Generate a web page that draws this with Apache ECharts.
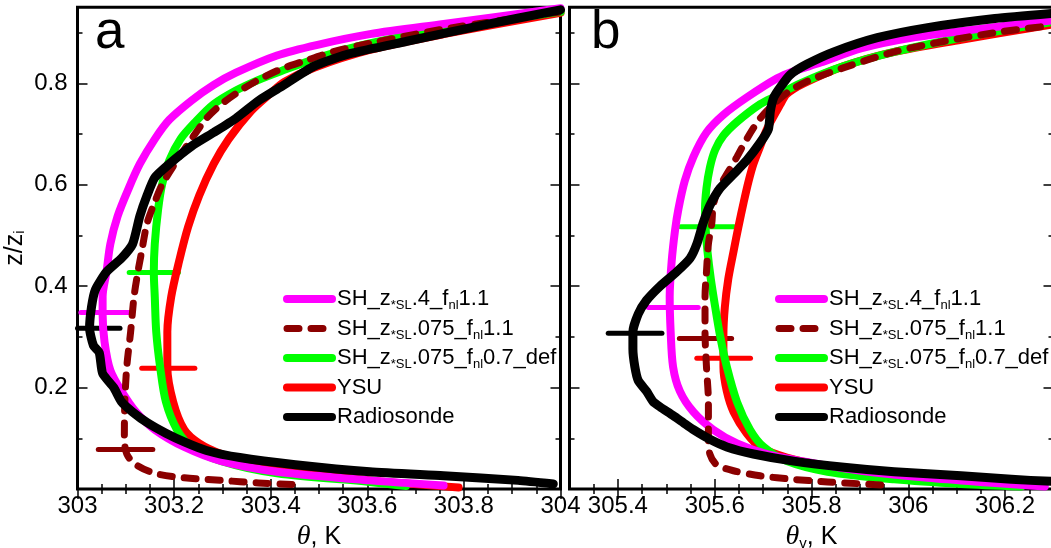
<!DOCTYPE html>
<html><head><meta charset="utf-8">
<script src="https://cdn.jsdelivr.net/npm/echarts@6/dist/echarts.min.js"></script>
<style>html,body{margin:0;padding:0;background:#fff}#c{width:1051px;height:548px}</style>
</head><body><div id="c"></div>
<script>
// ---- tick values / labels ----
const xMajorA = [303, 303.2, 303.4, 303.6, 303.8, 304];
const xMinorA = [303.05, 303.1, 303.15, 303.25, 303.3, 303.35, 303.45, 303.5, 303.55, 303.65, 303.7, 303.75, 303.85, 303.9, 303.95];
const xMajorB = [305.4, 305.6, 305.8, 306, 306.2];
const xMinorB = [305.35, 305.45, 305.5, 305.55, 305.65, 305.7, 305.75, 305.85, 305.9, 305.95, 306.05, 306.1, 306.15, 306.25];
const yMajor = [0.2, 0.4, 0.6, 0.8];
const yMinor = [0.1, 0.3, 0.5, 0.7, 0.9];

// ---- series names ----
const names = ['SH_z*SL.4_fnl1.1', 'SH_z*SL.075_fnl1.1', 'SH_z*SL.075_fnl0.7_def', 'YSU', 'Radiosonde'];
const richNames = ['SH_z{s|*SL}.4_f{s|nl}1.1', 'SH_z{s|*SL}.075_f{s|nl}1.1', 'SH_z{s|*SL}.075_f{s|nl}0.7_def', 'YSU', 'Radiosonde'];

// ---- panel a (theta) ----
const magentaA = [[303.758,0.007],[303.605,0.017],[303.413,0.034],[303.298,0.055],[303.221,0.083],[303.16,0.117],[303.121,0.152],[303.091,0.193],[303.068,0.234],[303.056,0.29],[303.052,0.345],[303.052,0.379],[303.06,0.428],[303.068,0.483],[303.083,0.538],[303.106,0.593],[303.129,0.641],[303.16,0.69],[303.19,0.728],[303.236,0.766],[303.282,0.797],[303.328,0.821],[303.413,0.855],[303.497,0.876],[303.605,0.897],[303.758,0.917],[304.0,0.948]];
const darkA = [[303.444,0.009],[303.375,0.012],[303.298,0.017],[303.221,0.022],[303.16,0.031],[303.121,0.048],[303.102,0.069],[303.097,0.103],[303.098,0.172],[303.102,0.241],[303.11,0.31],[303.117,0.379],[303.125,0.428],[303.133,0.469],[303.144,0.524],[303.16,0.566],[303.175,0.6],[303.206,0.648],[303.236,0.69],[303.267,0.731],[303.298,0.759],[303.336,0.785],[303.375,0.807],[303.421,0.828],[303.467,0.843],[303.528,0.862],[303.605,0.879],[303.758,0.907],[304.0,0.941]];
const greenA = [[303.68,0.006],[303.605,0.014],[303.413,0.031],[303.298,0.055],[303.236,0.083],[303.206,0.117],[303.183,0.172],[303.171,0.241],[303.163,0.31],[303.16,0.379],[303.158,0.428],[303.16,0.483],[303.167,0.552],[303.175,0.6],[303.19,0.648],[303.213,0.69],[303.244,0.724],[303.282,0.759],[303.328,0.786],[303.375,0.807],[303.421,0.824],[303.513,0.855],[303.605,0.879],[303.758,0.907],[304.0,0.941]];
const redA = [[303.789,0.003],[303.605,0.017],[303.49,0.031],[303.375,0.048],[303.298,0.069],[303.252,0.09],[303.221,0.117],[303.198,0.172],[303.186,0.241],[303.186,0.31],[303.194,0.379],[303.21,0.448],[303.229,0.517],[303.252,0.579],[303.282,0.641],[303.313,0.69],[303.359,0.745],[303.398,0.779],[303.428,0.803],[303.49,0.831],[303.605,0.866],[303.758,0.897],[304.0,0.939]];
const blackA = [[303.985,0.01],[303.912,0.017],[303.758,0.026],[303.605,0.034],[303.451,0.048],[303.336,0.062],[303.267,0.076],[303.221,0.093],[303.183,0.11],[303.144,0.131],[303.114,0.152],[303.091,0.172],[303.075,0.2],[303.052,0.228],[303.045,0.269],[303.033,0.283],[303.025,0.317],[303.029,0.359],[303.037,0.393],[303.06,0.428],[303.091,0.455],[303.114,0.483],[303.129,0.538],[303.144,0.579],[303.16,0.614],[303.19,0.641],[303.236,0.676],[303.282,0.703],[303.328,0.731],[303.375,0.766],[303.421,0.793],[303.49,0.834],[303.566,0.859],[303.682,0.883],[303.835,0.914],[304.0,0.945]];
// horizontal bars, panel a
const barMagentaA = [[303.007,0.348],[303.109,0.348]];
const barDarkA = [[303.043,0.078],[303.156,0.078]];
const barGreenA = [[303.107,0.427],[303.209,0.427]];
const barRedA = [[303.133,0.238],[303.243,0.238]];
const barBlackA = [[303.0,0.317],[303.088,0.317]];

// ---- panel b (theta_v) ----
const magentaB = [[306.282,0.005],[306.179,0.012],[306.04,0.022],[305.902,0.036],[305.798,0.052],[305.708,0.069],[305.646,0.09],[305.597,0.117],[305.556,0.152],[305.528,0.193],[305.514,0.241],[305.509,0.31],[305.507,0.379],[305.511,0.448],[305.518,0.51],[305.525,0.552],[305.538,0.607],[305.556,0.655],[305.583,0.703],[305.618,0.738],[305.666,0.772],[305.729,0.81],[305.763,0.824],[305.819,0.841],[305.902,0.869],[306.006,0.89],[306.144,0.907],[306.296,0.924]];
const darkB = [[305.943,0.008],[305.833,0.014],[305.763,0.019],[305.694,0.026],[305.639,0.036],[305.604,0.048],[305.59,0.069],[305.587,0.103],[305.587,0.172],[305.583,0.241],[305.58,0.31],[305.58,0.379],[305.583,0.428],[305.587,0.483],[305.594,0.524],[305.597,0.559],[305.608,0.593],[305.625,0.621],[305.646,0.655],[305.666,0.69],[305.694,0.731],[305.722,0.759],[305.756,0.786],[305.798,0.807],[305.867,0.831],[305.971,0.862],[306.075,0.883],[306.179,0.9],[306.296,0.914]];
const greenB = [[306.234,0.005],[306.109,0.01],[305.971,0.019],[305.833,0.034],[305.749,0.055],[305.701,0.083],[305.673,0.117],[305.646,0.172],[305.625,0.241],[305.611,0.303],[305.601,0.359],[305.592,0.414],[305.585,0.469],[305.581,0.517],[305.58,0.552],[305.583,0.593],[305.59,0.634],[305.601,0.669],[305.618,0.697],[305.646,0.724],[305.694,0.759],[305.729,0.776],[305.777,0.8],[305.867,0.834],[305.971,0.862],[306.109,0.89],[306.296,0.921]];
const redB = [[306.234,0.006],[306.109,0.015],[305.971,0.028],[305.833,0.045],[305.749,0.062],[305.694,0.083],[305.666,0.11],[305.639,0.152],[305.625,0.193],[305.618,0.241],[305.618,0.303],[305.621,0.359],[305.628,0.414],[305.639,0.469],[305.649,0.517],[305.66,0.566],[305.67,0.607],[305.68,0.641],[305.694,0.676],[305.708,0.71],[305.736,0.759],[305.749,0.779],[305.784,0.8],[305.867,0.834],[305.971,0.862],[306.109,0.886],[306.296,0.916]];
const blackB = [[306.296,0.015],[306.213,0.019],[306.109,0.026],[305.971,0.034],[305.867,0.043],[305.763,0.055],[305.68,0.069],[305.625,0.083],[305.59,0.098],[305.556,0.117],[305.535,0.131],[305.514,0.145],[305.487,0.162],[305.473,0.172],[305.459,0.193],[305.442,0.214],[305.435,0.241],[305.431,0.276],[305.431,0.31],[305.442,0.345],[305.459,0.372],[305.487,0.4],[305.521,0.428],[305.549,0.455],[305.563,0.483],[305.576,0.524],[305.59,0.559],[305.611,0.593],[305.639,0.621],[305.666,0.648],[305.694,0.683],[305.711,0.71],[305.715,0.745],[305.722,0.772],[305.736,0.793],[305.756,0.817],[305.791,0.838],[305.846,0.862],[305.936,0.89],[306.04,0.91],[306.179,0.928],[306.296,0.938]];
// horizontal bars, panel b
const barMagentaB = [[305.463,0.358],[305.566,0.358]];
const barDarkB = [[305.527,0.297],[305.635,0.297]];
const barGreenB = [[305.53,0.517],[305.64,0.517]];
const barRedB = [[305.563,0.258],[305.674,0.258]];
const barBlackB = [[305.38,0.307],[305.491,0.307]];

// ---- styling ----
const FONT = 'Liberation Sans';
const colors = {m:'#ff00ff', d:'#8b0000', g:'#00ff00', r:'#ff0000', k:'#000000'};
const legendColors = [colors.m, colors.d, colors.g, colors.r, colors.k];
const tickLine = {color:'#000', width:1.5};
const DASH = [12, 12];

function xAxes(g, min, max, major, minor, labels, name) {
  const base = {gridIndex:g, type:'value', min:min, max:max, splitLine:{show:false}, axisLine:{show:false}, axisPointer:{show:false}};
  return [
    Object.assign({}, base, {position:'bottom',
      axisTick:{inside:true, length:10, customValues:major, lineStyle:tickLine},
      axisLabel:{customValues:labels, color:'#000', fontFamily:FONT, fontSize:24, margin:5},
      name:name, nameLocation:'middle', nameGap:27,
      nameTextStyle:{color:'#000', fontFamily:FONT, fontSize:25,
        rich:{i:{fontFamily:'Liberation Serif', fontStyle:'italic', fontSize:28, color:'#000'},
              s:{fontSize:15, verticalAlign:'bottom', lineHeight:15, color:'#000', fontFamily:FONT}}}}),
    Object.assign({}, base, {position:'bottom', axisTick:{inside:true, length:5, customValues:minor, lineStyle:tickLine}, axisLabel:{show:false}}),
    Object.assign({}, base, {position:'top', axisTick:{inside:true, length:10, customValues:major, lineStyle:tickLine}, axisLabel:{show:false}}),
    Object.assign({}, base, {position:'top', axisTick:{inside:true, length:5, customValues:minor, lineStyle:tickLine}, axisLabel:{show:false}})
  ];
}
function yAxes(g, showLabels) {
  const base = {gridIndex:g, type:'value', min:0, max:0.95, splitLine:{show:false}, axisLine:{show:false}, axisPointer:{show:false}};
  const main = Object.assign({}, base, {position:'left',
      axisTick:{inside:true, length:10, customValues:yMajor, lineStyle:tickLine},
      axisLabel:{show:showLabels, customValues:yMajor, color:'#000', fontFamily:FONT, fontSize:24, margin:10}});
  if (showLabels) {
    main.name = 'z/z{s|i}'; main.nameLocation = 'middle'; main.nameGap = 50; main.nameRotate = 90;
    main.nameTextStyle = {color:'#000', fontFamily:FONT, fontSize:25,
      rich:{s:{fontSize:15, verticalAlign:'bottom', lineHeight:15, color:'#000', fontFamily:FONT}}};
  }
  return [main,
    Object.assign({}, base, {position:'left', axisTick:{inside:true, length:5, customValues:yMinor, lineStyle:tickLine}, axisLabel:{show:false}}),
    Object.assign({}, base, {position:'right', axisTick:{inside:true, length:10, customValues:yMajor, lineStyle:tickLine}, axisLabel:{show:false}}),
    Object.assign({}, base, {position:'right', axisTick:{inside:true, length:5, customValues:yMinor, lineStyle:tickLine}, axisLabel:{show:false}})
  ];
}

function curve(g, name, data, color, width, dashed, smooth, z) {
  return {type:'line', name:name, xAxisIndex:4*g, yAxisIndex:4*g, data:data, showSymbol:false, symbol:'none',
    smooth:smooth, clip:false, z:z, silent:true,
    lineStyle:{color:color, width:width, type: dashed ? DASH : 'solid', cap:'round', join:'round'},
    itemStyle:{color:color}};
}
function bar(g, data, color) {
  return {type:'line', name:'bar', xAxisIndex:4*g, yAxisIndex:4*g, data:data, showSymbol:false, symbol:'none', clip:false, z:1, silent:true,
    lineStyle:{color:color, width:5, cap:'round'}};
}

const legendRich = {s:{fontSize:13, verticalAlign:'bottom', lineHeight:14, color:'#000', fontFamily:FONT}};
function legend(left) {
  return {
    data: names.map(function (n, i) {
      return {name:n, lineStyle:{color:legendColors[i], width: i === 1 ? 7 : 8, type: i === 1 ? DASH : 'solid', cap:'round'},
              itemStyle:{opacity:0, color:'transparent', borderWidth:0}};
    }),
    orient:'vertical', left:left, top:286, padding:0, itemWidth:45, itemHeight:8, itemGap:3.5,
    selectedMode:false,
    itemStyle:{opacity:0, borderWidth:0},
    lineStyle:{width:8, cap:'round'},
    formatter: function (n) { return richNames[names.indexOf(n)]; },
    textStyle:{color:'#000', fontFamily:FONT, fontSize:22, lineHeight:26, rich:legendRich}};
}

const option = {
  animation:false,
  backgroundColor:'#fff',
  title:[
    {text:'a', left:95, top:7, padding:0, textStyle:{fontSize:53, fontWeight:'normal', color:'#000', fontFamily:FONT}},
    {text:'b', left:591, top:7, padding:0, textStyle:{fontSize:53, fontWeight:'normal', color:'#000', fontFamily:FONT}}
  ],
  grid:[
    {left:77.5, top:7.3, width:483, height:481.7, show:true, borderColor:'#000', borderWidth:3, backgroundColor:'transparent', outerBoundsMode:'none'},
    {left:569.5, top:7.3, width:484, height:481.7, show:true, borderColor:'#000', borderWidth:3, backgroundColor:'transparent', outerBoundsMode:'none'}
  ],
  legend:[legend(283), legend(775)],
  xAxis: xAxes(0, 303, 304, xMajorA, xMinorA, xMajorA, '{i|θ}, K').concat(
         xAxes(1, 305.3, 306.3, xMajorB, xMinorB, xMajorB, '{i|θ}{s|v}, K')),
  yAxis: yAxes(0, true).concat(yAxes(1, false)),
  series:[
    bar(0, barMagentaA, colors.m), bar(0, barDarkA, colors.d), bar(0, barGreenA, colors.g), bar(0, barRedA, colors.r), bar(0, barBlackA, colors.k),
    curve(0, names[3], redA, colors.r, 8, false, 0.3, 2),
    curve(0, names[2], greenA, colors.g, 8, false, 0.3, 3),
    curve(0, names[0], magentaA, colors.m, 8, false, 0.3, 4),
    curve(0, names[1], darkA, colors.d, 7, true, 0.3, 5),
    curve(0, names[4], blackA, colors.k, 9, false, 0.2, 6),
    bar(1, barMagentaB, colors.m), bar(1, barDarkB, colors.d), bar(1, barGreenB, colors.g), bar(1, barRedB, colors.r), bar(1, barBlackB, colors.k),
    curve(1, names[3], redB, colors.r, 8, false, 0.3, 2),
    curve(1, names[2], greenB, colors.g, 8, false, 0.3, 3),
    curve(1, names[0], magentaB, colors.m, 8, false, 0.3, 4),
    curve(1, names[1], darkB, colors.d, 7, true, 0.3, 5),
    curve(1, names[4], blackB, colors.k, 9, false, 0.2, 6)
  ]
};
const chart = echarts.init(document.getElementById('c'), null, {renderer:'canvas'});
chart.setOption(option);
</script></body></html>
